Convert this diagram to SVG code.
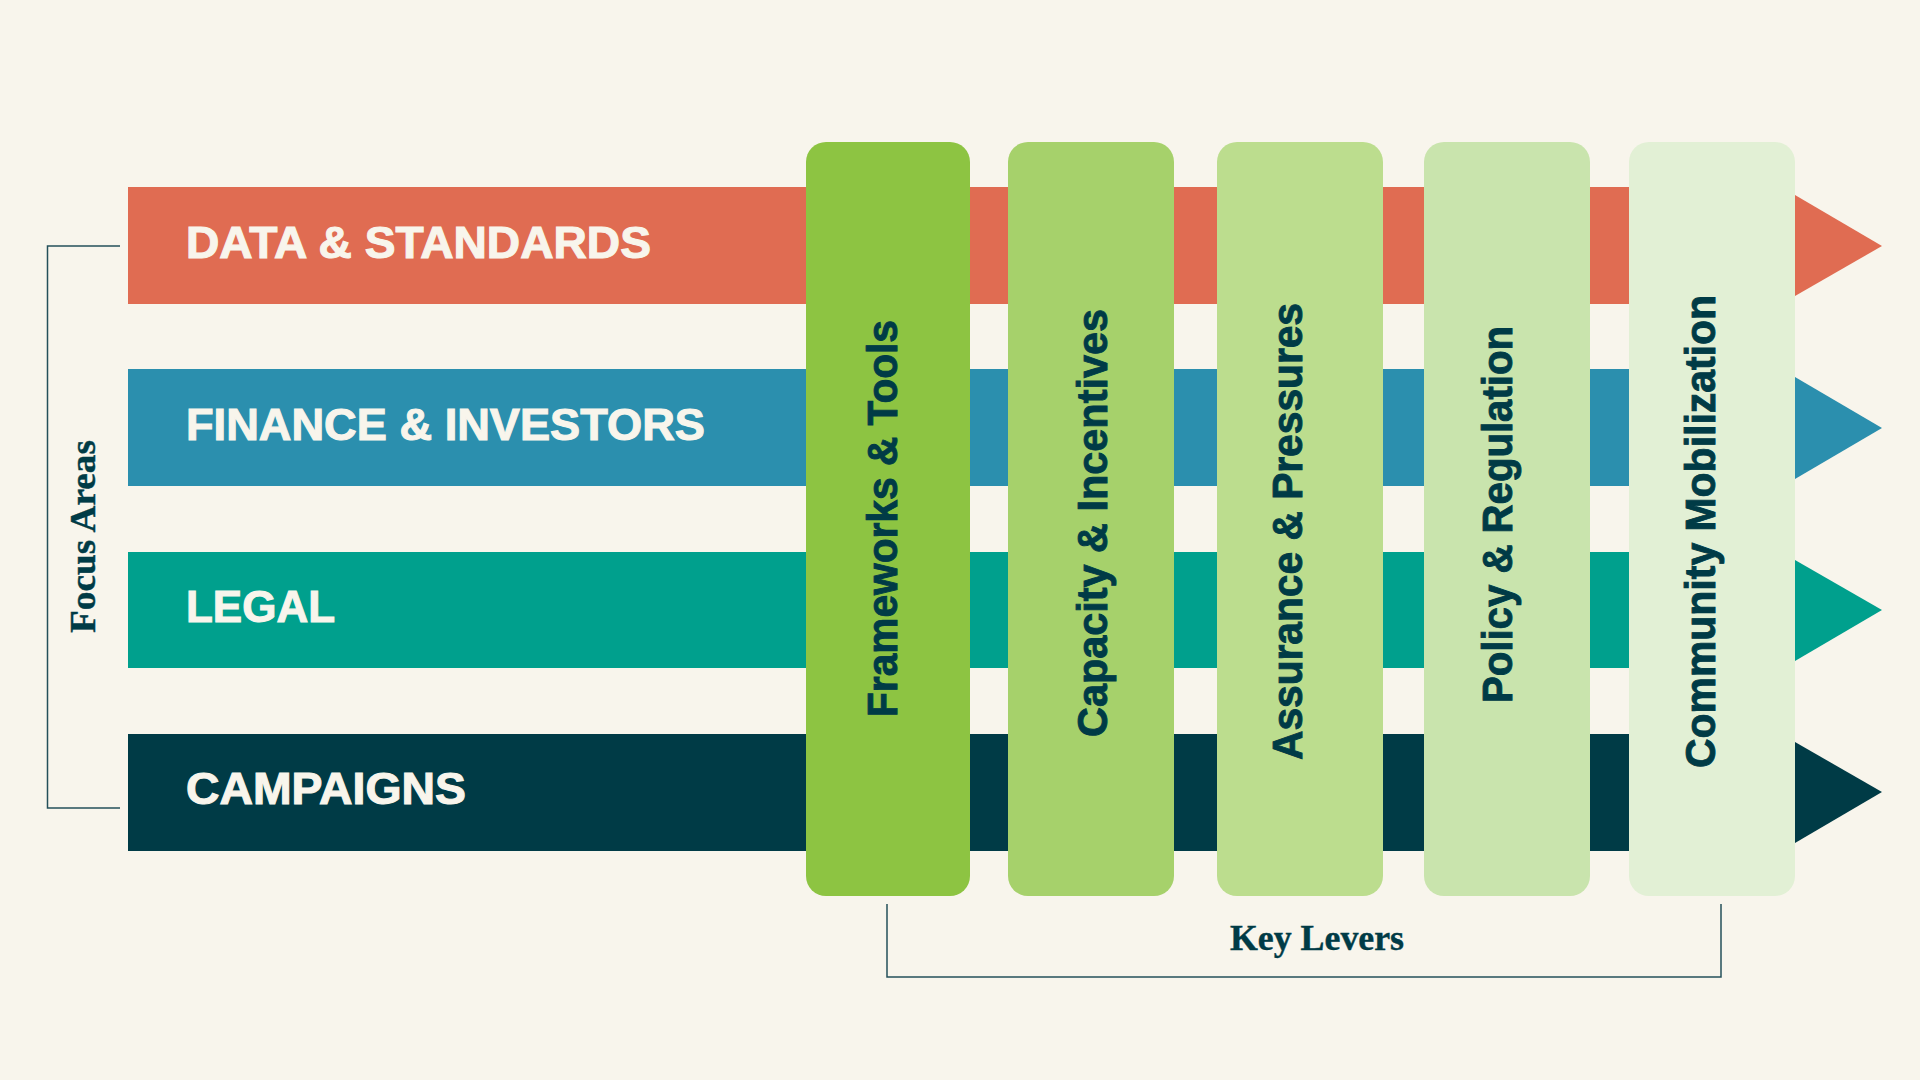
<svg xmlns="http://www.w3.org/2000/svg" width="1920" height="1080" viewBox="0 0 1920 1080">
  <style>
    .bar-label { font-family: "Liberation Sans", Arial, sans-serif; font-weight: 700; font-size: 45px; fill: #f8f5ec; stroke: #f8f5ec; stroke-width: 1.1; paint-order: stroke; }
    .lever-label { font-family: "Liberation Sans", Arial, sans-serif; font-weight: 700; font-size: 42px; fill: #003b46; stroke: #003b46; stroke-width: 0.9; }
    .group-label { font-family: "Liberation Serif", "Times New Roman", serif; font-weight: 700; font-size: 35px; fill: #003b46; stroke: #003b46; stroke-width: 0.4; }
    .bracket { fill: none; stroke: #24505a; stroke-width: 1.5; }
  </style>
  <rect x="0" y="0" width="1920" height="1080" fill="#f8f5ec"/>

  <!-- Focus areas (bars with arrowheads) -->
  <g id="focus-data">
    <rect x="128" y="187" width="1667" height="117" fill="#e06c52"/>
    <polygon points="1795,195 1882,246 1795,296" fill="#e06c52"/>
    <text class="bar-label" x="186" y="258" textLength="465" lengthAdjust="spacingAndGlyphs">DATA &amp; STANDARDS</text>
  </g>
  <g id="focus-finance">
    <rect x="128" y="369" width="1667" height="117" fill="#2b8fae"/>
    <polygon points="1795,377 1882,428 1795,479" fill="#2b8fae"/>
    <text class="bar-label" x="186" y="440" textLength="519" lengthAdjust="spacingAndGlyphs">FINANCE &amp; INVESTORS</text>
  </g>
  <g id="focus-legal">
    <rect x="128" y="552" width="1667" height="116" fill="#00a08d"/>
    <polygon points="1795,560 1882,610 1795,661" fill="#00a08d"/>
    <text class="bar-label" x="186" y="622" textLength="149" lengthAdjust="spacingAndGlyphs">LEGAL</text>
  </g>
  <g id="focus-campaigns">
    <rect x="128" y="734" width="1667" height="117" fill="#003b46"/>
    <polygon points="1795,742 1882,792 1795,843" fill="#003b46"/>
    <text class="bar-label" x="186" y="804" textLength="280" lengthAdjust="spacingAndGlyphs">CAMPAIGNS</text>
  </g>

  <!-- Key levers (columns) -->
  <g id="lever-frameworks">
    <rect x="806" y="142" width="164" height="754" rx="20" ry="20" fill="#8dc442"/>
    <text class="lever-label" transform="translate(897,717) rotate(-90)" textLength="397" lengthAdjust="spacingAndGlyphs">Frameworks &amp; Tools</text>
  </g>
  <g id="lever-capacity">
    <rect x="1008" y="142" width="166" height="754" rx="20" ry="20" fill="#a6d16b"/>
    <text class="lever-label" transform="translate(1107,737) rotate(-90)" textLength="428" lengthAdjust="spacingAndGlyphs">Capacity &amp; Incentives</text>
  </g>
  <g id="lever-assurance">
    <rect x="1217" y="142" width="166" height="754" rx="20" ry="20" fill="#bcdd8e"/>
    <text class="lever-label" transform="translate(1302,760) rotate(-90)" textLength="457" lengthAdjust="spacingAndGlyphs">Assurance &amp; Pressures</text>
  </g>
  <g id="lever-policy">
    <rect x="1424" y="142" width="166" height="754" rx="20" ry="20" fill="#c9e4ad"/>
    <text class="lever-label" transform="translate(1512,703) rotate(-90)" textLength="377" lengthAdjust="spacingAndGlyphs">Policy &amp; Regulation</text>
  </g>
  <g id="lever-community">
    <rect x="1629" y="142" width="166" height="754" rx="20" ry="20" fill="#e2f0d5"/>
    <text class="lever-label" transform="translate(1715,768) rotate(-90)" textLength="473" lengthAdjust="spacingAndGlyphs">Community Mobilization</text>
  </g>

  <!-- Brackets -->
  <g id="connectors">
    <polyline class="bracket" points="120,246 47.5,246 47.5,808 120,808"/>
    <polyline class="bracket" points="887,904 887,977 1721,977 1721,904"/>
  </g>

  <g id="label-focus-areas">
    <text class="group-label" transform="translate(95,633) rotate(-90)" textLength="193" lengthAdjust="spacingAndGlyphs">Focus Areas</text>
  </g>
  <g id="label-key-levers">
    <text class="group-label" x="1230" y="950" textLength="174" lengthAdjust="spacingAndGlyphs">Key Levers</text>
  </g>
</svg>
